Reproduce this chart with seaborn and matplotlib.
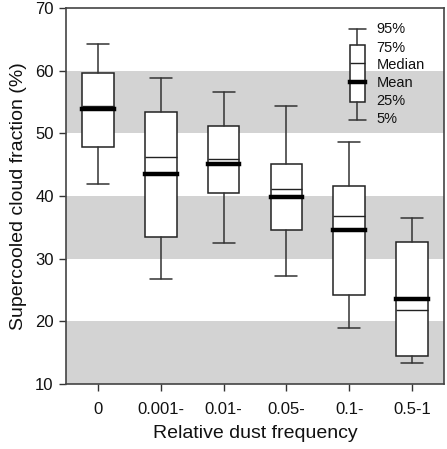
import matplotlib
matplotlib.use("Agg")
import matplotlib.pyplot as plt
import seaborn as sns

# ── Data ─────────────────────────────────────────────────────────────────────
categories = ["0", "0.001-", "0.01-", "0.05-", "0.1-", "0.5-1"]
p5     = [41.9, 26.8, 32.5, 27.2, 19.0, 13.4]
p25    = [47.8, 33.5, 40.4, 34.6, 24.2, 14.5]
median = [54.4, 46.2, 45.9, 41.1, 36.8, 21.8]
mean   = [53.9, 43.5, 45.1, 39.8, 34.6, 23.6]
p75    = [59.7, 53.4, 51.1, 45.1, 41.6, 32.7]
p95    = [64.2, 58.8, 56.6, 54.4, 48.6, 36.5]

# key box (legend) values and where its labels sit
key_labels   = ["95%", "75%", "Median", "Mean", "25%", "5%"]
key_values   = [66.6, 64.1, 61.2, 58.2, 55.0, 52.1]
key_label_y  = [66.6, 63.7, 60.9, 58.0, 55.1, 52.3]

bands = [(10, 20), (30, 40), (50, 60)]
BAND_COL = "#d3d3d3"

sns.set_style("ticks")
plt.rcParams["font.family"] = ["Liberation Sans", "DejaVu Sans"]

fig = plt.figure(figsize=(4.47, 4.49), dpi=100)
ax = fig.add_axes([0.148, 0.145, 0.845, 0.837])

for lo, hi in bands:
    ax.axhspan(lo, hi, color=BAND_COL, lw=0, zorder=0)

stats = [dict(label=c, whislo=a, q1=b, med=m, mean=mu, q3=d, whishi=e, fliers=[])
         for c, a, b, m, mu, d, e in zip(categories, p5, p25, median, mean, p75, p95)]

box_kw = dict(
    showmeans=True, meanline=True, patch_artist=True,
    boxprops=dict(facecolor="white", edgecolor="#222222", linewidth=1.1),
    medianprops=dict(color="#222222", linewidth=1.0),
    meanprops=dict(color="black", linestyle="-", linewidth=3.2,
                   solid_capstyle="projecting"),
    whiskerprops=dict(color="#333333", linewidth=1.1),
    capprops=dict(color="#333333", linewidth=1.1),
)
ax.bxp(stats, positions=range(len(categories)), widths=0.5, capwidths=0.35,
       **box_kw)

# key box in the upper right
kv = key_values
key_stats = [dict(whishi=kv[0], q3=kv[1], med=kv[2], mean=kv[3], q1=kv[4],
                  whislo=kv[5], fliers=[])]
ax.bxp(key_stats, positions=[4.13], widths=0.24, capwidths=0.27,
       manage_ticks=False, **box_kw)
for lab, v in zip(key_labels, key_label_y):
    ax.text(4.44, v, lab, fontsize=10.5, va="center", ha="left", color="#111111")

ax.set_xlim(-0.51, 5.51)
ax.set_ylim(10, 70)
ax.set_yticks(range(10, 71, 10))
ax.set_xticks(range(len(categories)))
ax.set_xticklabels(categories)
ax.tick_params(axis="both", direction="out", length=5, width=1,
               color="#333333", labelsize=12, labelcolor="#111111", pad=8)
ax.tick_params(axis="y", pad=4)
for s in ax.spines.values():
    s.set_color("#444444")
    s.set_linewidth(1.2)

ax.set_xlabel("Relative dust frequency", fontsize=14, color="#111111", labelpad=6)
ax.set_ylabel("Supercooled cloud fraction (%)", fontsize=14, color="#111111",
              labelpad=6)

fig.savefig("out.png", dpi=100, facecolor="white")
